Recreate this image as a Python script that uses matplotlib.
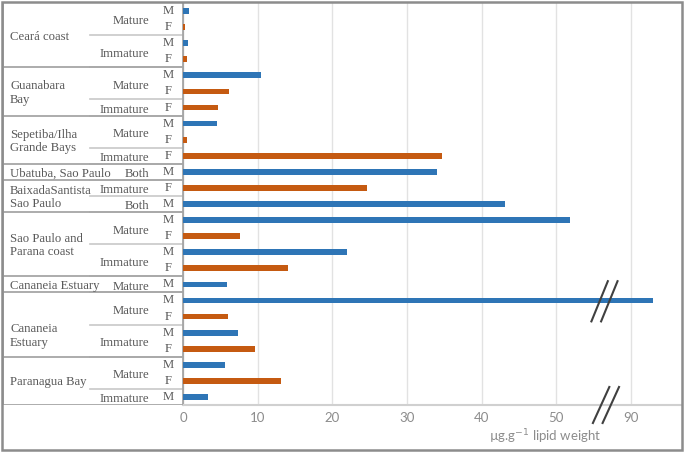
import matplotlib.pyplot as plt
from matplotlib.patches import Rectangle

# bar values (µg.g-1 lipid weight), top to bottom
values = [0.8, 0.3, 0.7, 0.5, 10.4, 6.1, 4.7, 4.5, 0.6, 34.7, 34.0, 24.6, 43.1,
          51.8, 7.6, 22.0, 14.0, 5.9, 93.0, 6.0, 7.3, 9.7, 5.6, 13.1, 3.4]
sexes = ['M', 'F', 'M', 'F', 'M', 'F', 'F', 'M', 'F', 'F', 'M', 'F', 'M',
         'M', 'F', 'M', 'F', 'M', 'M', 'F', 'M', 'F', 'M', 'F', 'M']
stages = [('Mature', 2), ('Immature', 2), ('Mature', 2), ('Immature', 1),
          ('Mature', 2), ('Immature', 1), ('Both', 1), ('Immature', 1), ('Both', 1),
          ('Mature', 2), ('Immature', 2), ('Mature', 1), ('Mature', 2),
          ('Immature', 2), ('Mature', 2), ('Immature', 1)]
groups = [('Ceará coast', 4), ('Guanabara\nBay', 3), ('Sepetiba/Ilha\nGrande Bays', 3),
          ('Ubatuba, Sao Paulo', 1), ('BaixadaSantista\nSao Paulo', 2),
          ('Sao Paulo and\nParana coast', 4), ('Cananeia Estuary', 1),
          ('Cananeia\nEstuary', 4), ('Paranagua Bay', 3)]
tick_vals = [0, 10, 20, 30, 40, 50, 90]
gap = 30  # values above the break are drawn shifted left by this much

colors = {'M': '#2E75B6', 'F': '#C55A11'}
txt = '#595959'
line = '#a6a6a6'
W, H = 685, 453


def shown(v):
    return v - gap if v >= 60 else v


fig = plt.figure(figsize=(W / 100, H / 100), dpi=100)
n = len(values)

ax = fig.add_axes([183 / W, 1 - 405 / H, (681 - 183) / W, 402 / H])
ys = list(range(n))
ax.barh(ys, [shown(v) for v in values], height=0.36,
        color=[colors[s] for s in sexes], zorder=3)
ax.set_ylim(n - 0.5, -0.5)
ax.set_xlim(0, 66.7)
ax.set_xticks([shown(v) for v in tick_vals])
ax.set_xticklabels([str(v) for v in tick_vals], family='Lato', fontsize=9.5, color='#8c8c8c')
ax.tick_params(axis='x', length=0, pad=5)
ax.set_yticks([])
ax.grid(axis='x', color='#e2e2e2', lw=1, zorder=0)
for s in ['top', 'right']:
    ax.spines[s].set_visible(False)
ax.spines['left'].set_color(line)
ax.spines['bottom'].set_color('#d0d0d0')
ax.spines['bottom'].set_linewidth(1.5)

# axis break marks
brk = shown(90) - 4.2
for dx in (0, 1.3):
    ax.plot([brk + dx - 1.1, brk + dx + 1.1], [19.3, 16.8], color='#404040', lw=1.5,
            zorder=4, clip_on=False)
    ax.plot([brk + dx + 0.2 - 1.1, brk + dx + 0.2 + 1.1], [25.62, 23.38], color='#404040',
            lw=1.5, zorder=4, clip_on=False)

fig.text(545 / W, 1 - 437 / H, 'µg.g$^{-1}$ lipid weight', family='Lato', fontsize=9.5,
         color='#8c8c8c', ha='center', va='center')

# left-hand table
tb = fig.add_axes([3 / W, 1 - 405 / H, 180 / W, 402 / H])
tb.set_xlim(3, 183)
tb.set_ylim(n - 0.5, -0.5)
tb.axis('off')
serif = dict(family='Liberation Serif', fontsize=9.2, color=txt, va='center')

for i, s in enumerate(sexes):
    tb.text(168, i, s, ha='center', **serif)

r = 0
for label, k in stages:
    tb.text(149, r + (k - 1) / 2 + 0.15, label, ha='right', **serif)
    r += k
    if r < n:
        tb.plot([90, 183], [r - 0.5, r - 0.5], color='#c8c8c8', lw=1.2)

r = 0
for label, k in groups:
    yc = r + (k - 1) / 2 + 0.1
    if label.startswith('Cananeia\n'):
        yc += 0.6
    tb.text(10, yc, label, ha='left', linespacing=1.15, **serif)
    r += k
    tb.plot([3, 183], [r - 0.5, r - 0.5], color=line, lw=1.3)
tb.plot([3, 3], [-0.5, n - 0.5], color=line, lw=1.3)
tb.plot([183, 183], [-0.5, n - 0.5], color=line, lw=1.3)

# outer frame
fig.patches.append(Rectangle((2 / W, 1 - 450 / H), 680 / W, 448 / H, transform=fig.transFigure,
                             fill=False, edgecolor='#8c8c8c', lw=1.8))

fig.savefig('out.png', dpi=100)
